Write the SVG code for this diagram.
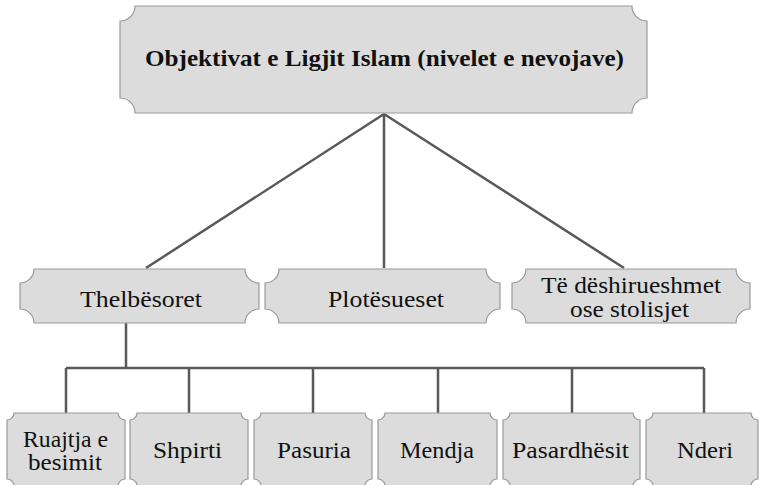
<svg xmlns="http://www.w3.org/2000/svg" width="759" height="485" viewBox="0 0 759 485">
<style>
.box{fill:#dcdcdc;stroke:#9a9a9a;stroke-width:1.2}
.t{font-family:"Liberation Serif","DejaVu Serif",serif;font-size:23px;fill:#111;text-anchor:middle}
.b{font-weight:bold;font-size:22.5px}
.c{stroke:#595959;stroke-width:2.5;fill:none}
</style>
<rect width="759" height="485" fill="#fff"/>
<g id="connectors">
<path class="c" d="M384,114 L146,268 M384,114 V268 M384,114 L624,268"/>
<path class="c" d="M126,323 V368 M66,368 H704 M66,368 V413 M189,368 V413 M313,368 V413 M438,368 V413 M572,368 V413 M704,368 V413"/>
</g>
<g id="root">
<path class="box" d="M135,6 H632 A15 15 0 0 0 647,21 V98 A15 15 0 0 0 632,113 H135 A15 15 0 0 0 120,98 V21 A15 15 0 0 0 135,6 Z"/>
<text class="t b" x="384.5" y="66" textLength="479" lengthAdjust="spacingAndGlyphs">Objektivat e Ligjit Islam (nivelet e nevojave)</text>
</g>
<g id="thelbesoret">
<path class="box" d="M34,269 H245 A14 14 0 0 0 259,283 V309 A14 14 0 0 0 245,323 H34 A14 14 0 0 0 20,309 V283 A14 14 0 0 0 34,269 Z"/>
<text class="t" x="141" y="307" textLength="122" lengthAdjust="spacingAndGlyphs">Thelbësoret</text>
</g>
<g id="plotesueset">
<path class="box" d="M279,269 H486 A14 14 0 0 0 500,283 V309 A14 14 0 0 0 486,323 H279 A14 14 0 0 0 265,309 V283 A14 14 0 0 0 279,269 Z"/>
<text class="t" x="386" y="307" textLength="116" lengthAdjust="spacingAndGlyphs">Plotësueset</text>
</g>
<g id="deshirueshmet">
<path class="box" d="M526,269 H736 A14 14 0 0 0 750,283 V309 A14 14 0 0 0 736,323 H526 A14 14 0 0 0 512,309 V283 A14 14 0 0 0 526,269 Z"/>
<text class="t" x="631" y="293" textLength="180" lengthAdjust="spacingAndGlyphs">Të dëshirueshmet</text>
<text class="t" x="629.5" y="317" textLength="119" lengthAdjust="spacingAndGlyphs">ose stolisjet</text>
</g>
<g id="ruajtja">
<path class="box" d="M14,413 H118 A7 7 0 0 0 125,420 V479 A7 7 0 0 0 118,486 H14 A7 7 0 0 0 7,479 V420 A7 7 0 0 0 14,413 Z"/>
<text class="t" x="65.5" y="447" textLength="85" lengthAdjust="spacingAndGlyphs">Ruajtja e</text>
<text class="t" x="65" y="470" textLength="74" lengthAdjust="spacingAndGlyphs">besimit</text>
</g>
<g id="shpirti">
<path class="box" d="M137,413 H241 A7 7 0 0 0 248,420 V479 A7 7 0 0 0 241,486 H137 A7 7 0 0 0 130,479 V420 A7 7 0 0 0 137,413 Z"/>
<text class="t" x="187.5" y="458" textLength="69" lengthAdjust="spacingAndGlyphs">Shpirti</text>
</g>
<g id="pasuria">
<path class="box" d="M261,413 H365 A7 7 0 0 0 372,420 V479 A7 7 0 0 0 365,486 H261 A7 7 0 0 0 254,479 V420 A7 7 0 0 0 261,413 Z"/>
<text class="t" x="314" y="458" textLength="74" lengthAdjust="spacingAndGlyphs">Pasuria</text>
</g>
<g id="mendja">
<path class="box" d="M385,413 H490 A7 7 0 0 0 497,420 V479 A7 7 0 0 0 490,486 H385 A7 7 0 0 0 378,479 V420 A7 7 0 0 0 385,413 Z"/>
<text class="t" x="437" y="458" textLength="74" lengthAdjust="spacingAndGlyphs">Mendja</text>
</g>
<g id="pasardhesit">
<path class="box" d="M510,413 H633 A7 7 0 0 0 640,420 V479 A7 7 0 0 0 633,486 H510 A7 7 0 0 0 503,479 V420 A7 7 0 0 0 510,413 Z"/>
<text class="t" x="570.5" y="458" textLength="117" lengthAdjust="spacingAndGlyphs">Pasardhësit</text>
</g>
<g id="nderi">
<path class="box" d="M653,413 H751 A7 7 0 0 0 758,420 V479 A7 7 0 0 0 751,486 H653 A7 7 0 0 0 646,479 V420 A7 7 0 0 0 653,413 Z"/>
<text class="t" x="705" y="458" textLength="56" lengthAdjust="spacingAndGlyphs">Nderi</text>
</g>
</svg>
